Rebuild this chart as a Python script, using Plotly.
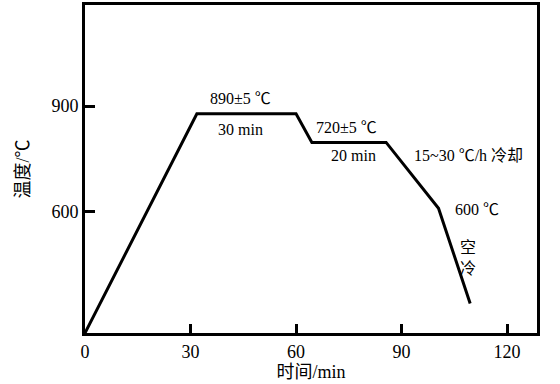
import plotly.graph_objects as go

# Data
time_min = [0, 31.8, 60.0, 64.5, 85.6, 100.5, 109.5]
temp_c = [256, 878, 878, 797, 797, 610, 340]

x_ticks = [0, 30, 60, 90, 120]
y_ticks = [600, 900]

ann_text = ["890±5 ℃", "30 min", "720±5 ℃", "20 min", "15~30 ℃/h 冷却", "600 ℃", "空<br>冷"]
ann_x = [44.1, 44.3, 74.4, 76.2, 108.9, 111.4, 108.9]
ann_y = [921, 835, 838, 759, 759, 607, 468]

FONT = "Times New Roman, Liberation Serif, Noto Sans CJK SC"

fig = go.Figure()
fig.add_trace(go.Scatter(x=time_min, y=temp_c, mode="lines",
                         line=dict(color="black", width=3), showlegend=False,
                         hoverinfo="skip"))

for t, x, y in zip(ann_text, ann_x, ann_y):
    fig.add_annotation(x=x, y=y, text=t, showarrow=False,
                       font=dict(family=FONT, size=16, color="black"))

fig.update_layout(
    width=560, height=384,
    margin=dict(l=85, r=23, t=2, b=51),
    paper_bgcolor="white", plot_bgcolor="white",
    font=dict(family=FONT, color="black"),
    xaxis=dict(range=[0, 128.5], tickvals=x_ticks, ticks="inside", ticklen=9,
               tickwidth=3, tickcolor="black", showline=True, linewidth=3,
               linecolor="black", mirror=True, showgrid=False, zeroline=False,
               tickfont=dict(size=18, family=FONT),
               title=dict(text="时间/min", font=dict(size=18, family=FONT), standoff=4)),
    yaxis=dict(range=[256, 1187], tickvals=y_ticks, ticks="inside", ticklen=10,
               tickwidth=3, tickcolor="black", showline=True, linewidth=3,
               linecolor="black", mirror=True, showgrid=False, zeroline=False,
               tickfont=dict(size=18, family=FONT),
               title=dict(text="温度/℃", font=dict(size=18, family=FONT), standoff=18)),
)

fig.write_html("out.html", config={"displayModeBar": False},
               post_script="document.body.style.margin='0px';")
